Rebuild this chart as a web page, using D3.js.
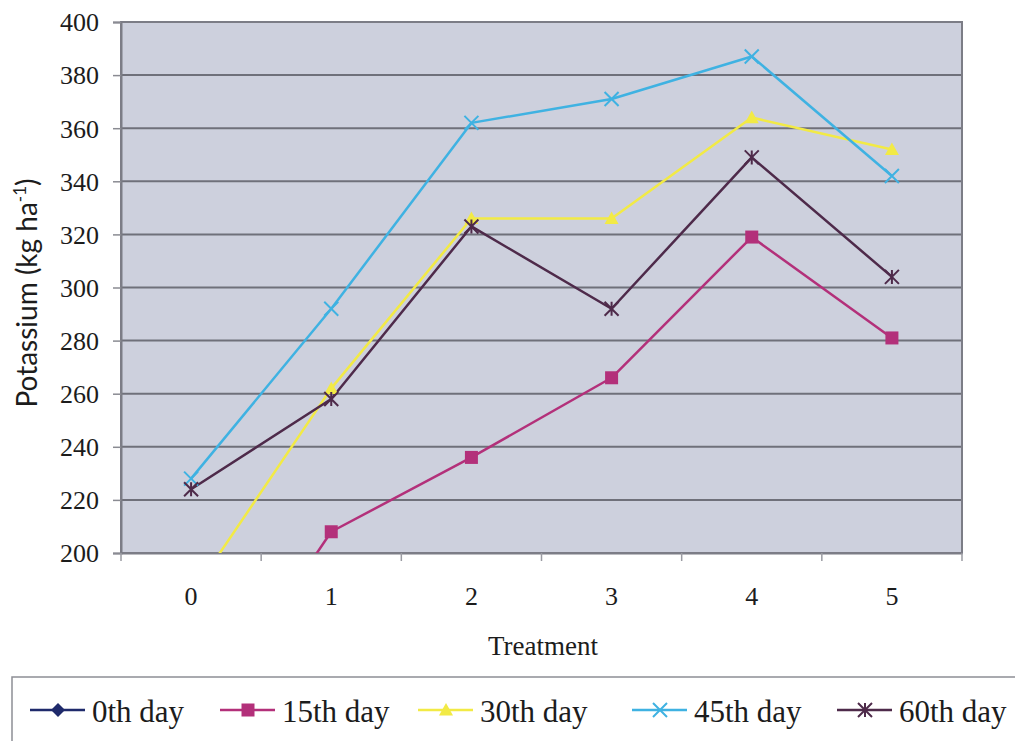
<!DOCTYPE html>
<html>
<head>
<meta charset="utf-8">
<script src="https://cdn.jsdelivr.net/npm/d3@7"></script>
<style>
  html, body { margin: 0; padding: 0; background: #ffffff; }
  svg { display: block; }
</style>
</head>
<body>
<svg id="chart" width="1015" height="741"></svg>
<script>
// Treatment categories and potassium values (kg ha-1) per sampling day
const categories = ["0", "1", "2", "3", "4", "5"];
const day0  = [150, 165, 178, 172, 188, 180];
const day15 = [130, 208, 236, 266, 319, 281];
const day30 = [184, 262, 326, 326, 364, 352];
const day45 = [228, 292, 362, 371, 387, 342];
const day60 = [224, 258, 323, 292, 349, 304];
const seriesNames = ["0th day", "15th day", "30th day", "45th day", "60th day"];
const yTicks = [200, 220, 240, 260, 280, 300, 320, 340, 360, 380, 400];

const series = [
  { name: seriesNames[0], values: day0,  color: "#1f2a6b", marker: "diamond" },
  { name: seriesNames[1], values: day15, color: "#b3307a", marker: "square" },
  { name: seriesNames[2], values: day30, color: "#f2ea45", marker: "triangle" },
  { name: seriesNames[3], values: day45, color: "#3fb2e2", marker: "x" },
  { name: seriesNames[4], values: day60, color: "#4e2a4a", marker: "star" }
];

const plot = { left: 121, right: 962, top: 22, bottom: 553 };
const serif = "'Liberation Serif', 'Times New Roman', serif";
const textColor = "#1c1c1c";
const svg = d3.select("#chart");

const xBand = d3.scaleBand().domain(categories).range([plot.left, plot.right]).paddingInner(0).paddingOuter(0);
const xPos = c => xBand(c) + xBand.bandwidth() / 2;
const y = d3.scaleLinear().domain([200, 400]).range([plot.bottom, plot.top]);

// plot area background
svg.append("rect")
  .attr("x", plot.left).attr("y", plot.top)
  .attr("width", plot.right - plot.left).attr("height", plot.bottom - plot.top)
  .attr("fill", "#cdd0dd");

// horizontal gridlines
svg.append("g").selectAll("line").data(yTicks.filter(v => v > 200)).join("line")
  .attr("x1", plot.left).attr("x2", plot.right)
  .attr("y1", d => y(d)).attr("y2", d => y(d))
  .attr("stroke", "#6f707a").attr("stroke-width", 2);

// plot border
svg.append("rect")
  .attr("x", plot.left).attr("y", plot.top)
  .attr("width", plot.right - plot.left).attr("height", plot.bottom - plot.top)
  .attr("fill", "none").attr("stroke", "#7c7d86").attr("stroke-width", 2);

// y axis
const yAxis = svg.append("g")
  .attr("transform", `translate(${plot.left},0)`)
  .call(d3.axisLeft(y).tickValues(yTicks).tickSize(8).tickPadding(14).tickFormat(d3.format("d")));
yAxis.select(".domain").attr("stroke", "#7c7d86").attr("stroke-width", 2);
yAxis.selectAll(".tick line").attr("stroke", "#8a8b92").attr("stroke-width", 1.5);
yAxis.selectAll(".tick text")
  .attr("font-family", serif)
  .attr("font-size", 26).attr("fill", textColor).attr("dy", "0.34em");

// x axis: labels centred in each treatment band, ticks at band edges
const xAxis = svg.append("g")
  .attr("transform", `translate(0,${plot.bottom})`)
  .call(d3.axisBottom(xBand).tickSize(0).tickPadding(34));
xAxis.select(".domain").attr("stroke", "#7c7d86").attr("stroke-width", 2);
xAxis.selectAll(".tick text")
  .attr("font-family", serif)
  .attr("font-size", 26).attr("fill", textColor);
const edges = categories.map(c => xBand(c)).concat([plot.right]);
svg.append("g").selectAll("line").data(edges).join("line")
  .attr("x1", d => d).attr("x2", d => d)
  .attr("y1", plot.bottom).attr("y2", plot.bottom + 8)
  .attr("stroke", "#9a9ba2").attr("stroke-width", 1.5);

// axis titles
svg.append("text")
  .attr("x", 543).attr("y", 655)
  .attr("text-anchor", "middle")
  .attr("font-family", serif)
  .attr("font-size", 27).attr("fill", textColor)
  .text("Treatment");

const yTitle = svg.append("text")
  .attr("transform", "translate(37,293) rotate(-90)")
  .attr("text-anchor", "middle")
  .attr("font-family", "Lato, 'Open Sans', sans-serif")
  .attr("font-size", 28).attr("fill", textColor);
yTitle.append("tspan").text("Potassium (kg ha");
yTitle.append("tspan").attr("font-size", 17).attr("dy", -11).text("-1");
yTitle.append("tspan").attr("dy", 11).text(")");

// marker shapes
function drawMarker(g, type, color, size) {
  const s = size / 2;
  if (type === "diamond") {
    g.append("path").attr("d", `M0,${-s}L${s},0L0,${s}L${-s},0Z`).attr("fill", color);
  } else if (type === "square") {
    g.append("rect").attr("x", -s).attr("y", -s).attr("width", size).attr("height", size).attr("fill", color);
  } else if (type === "triangle") {
    g.append("path").attr("d", `M0,${-s}L${s},${s * 0.8}L${-s},${s * 0.8}Z`).attr("fill", color);
  } else if (type === "x") {
    g.append("path").attr("d", `M${-s},${-s}L${s},${s}M${s},${-s}L${-s},${s}`)
      .attr("stroke", color).attr("stroke-width", 2).attr("fill", "none");
  } else if (type === "star") {
    g.append("path").attr("d", `M${-s},${-s}L${s},${s}M${s},${-s}L${-s},${s}M0,${-s}L0,${s}`)
      .attr("stroke", color).attr("stroke-width", 2).attr("fill", "none");
  }
}

// clip lines to the plot area
svg.append("clipPath").attr("id", "plotClip")
  .append("rect")
  .attr("x", plot.left).attr("y", plot.top)
  .attr("width", plot.right - plot.left).attr("height", plot.bottom - plot.top);

const line = d3.line().x((d, i) => xPos(categories[i])).y(d => y(d));
const lines = svg.append("g").attr("clip-path", "url(#plotClip)");
series.forEach(s => {
  lines.append("path")
    .datum(s.values)
    .attr("d", line)
    .attr("fill", "none")
    .attr("stroke", s.color)
    .attr("stroke-width", 2.5)
    .attr("stroke-linejoin", "round");
});
series.forEach(s => {
  s.values.forEach((v, i) => {
    if (v < 200 || v > 400) return;
    const g = svg.append("g").attr("transform", `translate(${xPos(categories[i])},${y(v)})`);
    drawMarker(g, s.marker, s.color, s.marker === "square" ? 13 : 14);
  });
});

// legend
const legendY = 710;
svg.append("rect")
  .attr("x", 12).attr("y", 677).attr("width", 1010).attr("height", 80)
  .attr("fill", "#ffffff").attr("stroke", "#8d8e95").attr("stroke-width", 1.5);
const legendX = [30, 220, 418, 632, 837];
series.forEach((s, i) => {
  const g = svg.append("g").attr("transform", `translate(${legendX[i]},${legendY})`);
  g.append("line").attr("x1", 0).attr("x2", 55).attr("y1", 0).attr("y2", 0)
    .attr("stroke", s.color).attr("stroke-width", 2.5);
  const m = g.append("g").attr("transform", "translate(28,0)");
  drawMarker(m, s.marker, s.color, s.marker === "square" ? 13 : 14);
  g.append("text")
    .attr("x", 62).attr("y", 12)
    .attr("font-family", serif)
    .attr("font-size", 31).attr("fill", textColor)
    .text(s.name);
});
</script>
</body>
</html>
